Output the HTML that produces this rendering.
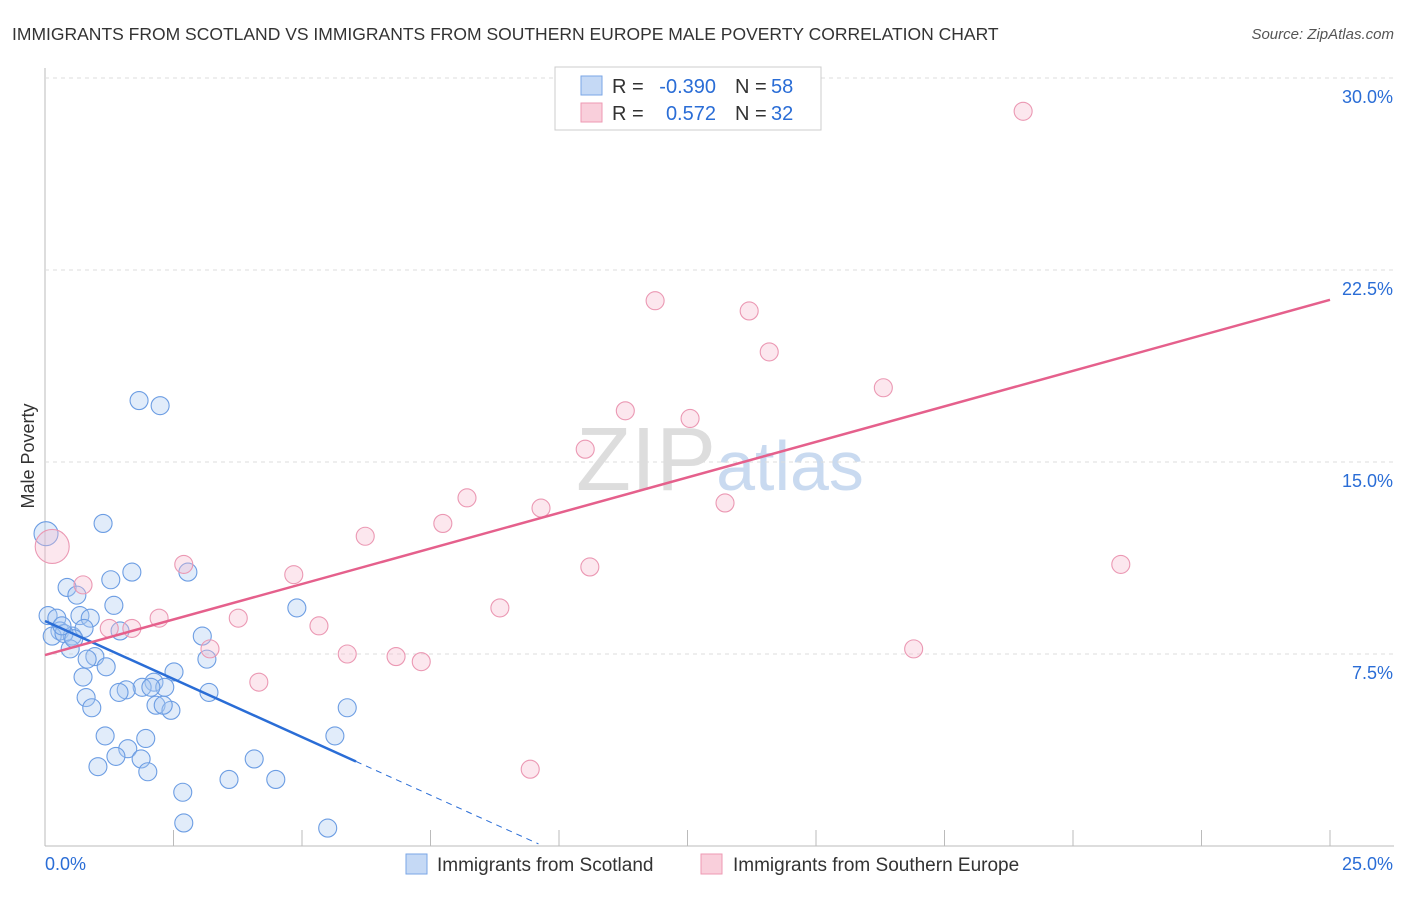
<!DOCTYPE html>
<html><head><meta charset="utf-8"><style>
body{margin:0;background:#fff;font-family:"Liberation Sans",sans-serif;}
svg text{font-family:"Liberation Sans",sans-serif;}
</style></head><body>
<svg id="chart" width="1406" height="892">
<text x="12" y="40" font-size="17.5" fill="#333">IMMIGRANTS FROM SCOTLAND VS IMMIGRANTS FROM SOUTHERN EUROPE MALE POVERTY CORRELATION CHART</text>
<text x="1394" y="39" font-size="15" fill="#555" text-anchor="end" font-style="italic">Source: ZipAtlas.com</text>
<text x="34" y="456" font-size="18" fill="#333" text-anchor="middle" transform="rotate(-90 34 456)">Male Poverty</text>
<text x="720" y="490" font-size="90" fill="#ddd" text-anchor="middle" font-family="Liberation Serif">ZIP<tspan fill="#c9daf0" font-family="Liberation Sans" font-size="70">atlas</tspan></text>
<g id="grid"></g><g id="marks"></g>
<rect x="555" y="67" width="266" height="63" fill="#fff" stroke="#ccc"/>
<rect x="581" y="76" width="21" height="19" fill="#c5d9f5" stroke="#7aa6e6"/>
<rect x="581" y="103" width="21" height="19" fill="#f9cfdb" stroke="#ee9ab3"/>
<g font-size="20">
<text x="612" y="93" fill="#333">R =</text><text x="716" y="93" fill="#2a6dd6" text-anchor="end">-0.390</text>
<text x="735" y="93" fill="#333">N =</text><text x="771" y="93" fill="#2a6dd6">58</text>
<text x="612" y="120" fill="#333">R =</text><text x="716" y="120" fill="#2a6dd6" text-anchor="end">0.572</text>
<text x="735" y="120" fill="#333">N =</text><text x="771" y="120" fill="#2a6dd6">32</text>
</g>
<rect x="406" y="854" width="21" height="20" fill="#c5d9f5" stroke="#7aa6e6"/>
<text x="437" y="871" font-size="19" fill="#333">Immigrants from Scotland</text>
<rect x="701" y="854" width="21" height="20" fill="#f9cfdb" stroke="#ee9ab3"/>
<text x="733" y="871" font-size="19" fill="#333">Immigrants from Southern Europe</text>
</svg>
<script>
const yTicks=[7.5,15,22.5,30];
const xTickLabels=["0.0%","25.0%"];
const blueX=[0.02,1.83,2.24,1.13,1.69,1.28,2.78,0.43,0.62,1.34,0.06,0.23,0.68,0.88,4.9,0.29,0.14,0.53,0.37,1.46,3.06,0.49,0.97,0.82,1.19,3.15,2.51,0.74,2.12,2.33,1.89,1.58,1.44,2.06,3.19,0.8,0.91,2.16,2.45,2.3,5.88,1.17,1.96,5.64,1.61,1.38,1.87,4.07,1.03,2.0,3.58,4.49,2.68,2.7,5.5,0.33,0.76,0.56];
const blueY=[12.2,17.4,17.2,12.6,10.7,10.4,10.7,10.1,9.8,9.4,9.0,8.9,9.0,8.9,9.3,8.4,8.2,8.2,8.3,8.4,8.2,7.7,7.4,7.3,7.0,7.3,6.8,6.6,6.4,6.2,6.2,6.1,6.0,6.2,6.0,5.8,5.4,5.5,5.3,5.5,5.4,4.3,4.2,4.3,3.8,3.5,3.4,3.4,3.1,2.9,2.6,2.6,2.1,0.9,0.7,8.6,8.5,8.1];
const pinkX=[19.03,11.87,13.7,14.09,16.31,11.29,12.55,10.51,8.21,9.65,13.23,7.74,6.23,0.14,2.7,10.6,20.93,4.84,0.74,8.85,2.22,3.76,1.25,1.69,5.33,5.88,6.83,7.32,16.9,3.21,4.16,9.44];
const pinkY=[28.7,21.3,20.9,19.3,17.9,17.0,16.7,15.5,13.6,13.2,13.4,12.6,12.1,11.7,11.0,10.9,11.0,10.6,10.2,9.3,8.9,8.9,8.5,8.5,8.6,7.5,7.4,7.2,7.7,7.7,6.4,3.0];
const blueFit=[8.79,-0.907]; // intercept, slope per %
const pinkFit=[7.46,0.555];
const NS="http://www.w3.org/2000/svg";
const X=v=>45+v/25*1285, Y=v=>846-v/30*768;
const grid=document.getElementById('grid'), marks=document.getElementById('marks');
function mk(tag,attrs,parent){const e=document.createElementNS(NS,tag);for(const k in attrs)e.setAttribute(k,attrs[k]);parent.appendChild(e);return e;}
let ax=mk('line',{x1:45,y1:68,x2:45,y2:846,stroke:'#bbb'},grid);


let bx=mk('line',{x1:45,y1:846,x2:1394,y2:846,stroke:'#bbb'},grid);


for(let i=1;i<=10;i++){const t=mk('line',{x1:X(i*2.5),y1:830,x2:X(i*2.5),y2:846,stroke:'#bbb'},grid);

}
yTicks.forEach(v=>{const l=mk('line',{x1:45,y1:Y(v),x2:1394,y2:Y(v),stroke:'#ddd','stroke-dasharray':'4,4'},grid);


const t=mk('text',{x:1393,y:Y(v)+25,'font-size':18,fill:'#2a6dd6','text-anchor':'end'},grid);t.textContent=v.toFixed(1)+'%';

});
xTickLabels.forEach((s,i)=>{const t=mk('text',{x:i?1393:45,y:870,'font-size':18,fill:'#2a6dd6','text-anchor':i?'end':'start'},grid);t.textContent=s;

});
blueX.forEach((x,i)=>{const c=mk('circle',{cx:X(x),cy:Y(blueY[i]),r:i==0?12:9,fill:'rgba(170,200,240,0.35)',stroke:'#6c9de3','stroke-width':1.1},marks);

});
pinkX.forEach((x,i)=>{const c=mk('circle',{cx:X(x),cy:Y(pinkY[i]),r:i==13?17:9,fill:'rgba(245,185,205,0.35)',stroke:'#eb98b3','stroke-width':1.1},marks);

});
const bf=x=>blueFit[0]+blueFit[1]*x, pf=x=>pinkFit[0]+pinkFit[1]*x;
let l1=mk('line',{x1:X(0),y1:Y(bf(0)),x2:X(6.05),y2:Y(bf(6.05)),stroke:'#2a6dd6','stroke-width':2.5},marks);


let l2=mk('line',{x1:X(6.05),y1:Y(bf(6.05)),x2:X(9.6),y2:Y(bf(9.6)),stroke:'#2a6dd6','stroke-width':1,'stroke-dasharray':'6,5'},marks);


let l3=mk('line',{x1:X(0),y1:Y(pf(0)),x2:X(25),y2:Y(pf(25)),stroke:'#e5608c','stroke-width':2.5},marks);


</script>
</body></html>
